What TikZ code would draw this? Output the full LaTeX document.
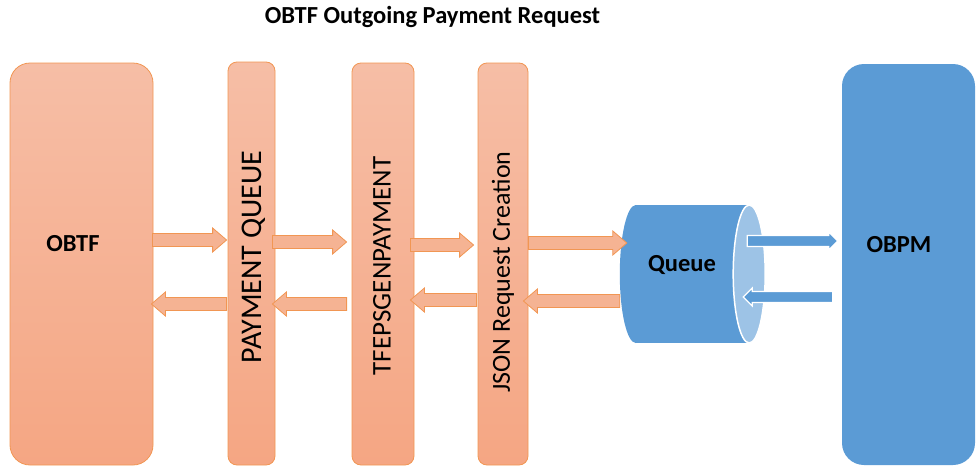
\documentclass[tikz,border=0pt]{standalone}
\usepackage{fontspec}
\setmainfont{Carlito}
\usetikzlibrary{calc}
\definecolor{orTop}{HTML}{F6BEA6}
\definecolor{orBot}{HTML}{F5A683}
\definecolor{orLine}{HTML}{F19653}
\definecolor{orArrow}{HTML}{F5B393}
\definecolor{qBlue}{HTML}{5B9BD5}
\definecolor{qLight}{HTML}{9DC3E6}
\tikzset{
  blk/.style n args={3}{to path={let \p1=(\tikztostart), \p2=(\tikztotarget), \n1={ifthenelse(\x2>\x1,1,-1)} in
    (\x1,\y1+#1) -- (\x2-\n1*#3,\y1+#1) -- (\x2-\n1*#3,\y1+#2) -- (\x2,\y1) -- (\x2-\n1*#3,\y1-#2) -- (\x2-\n1*#3,\y1-#1) -- (\x1,\y1-#1) -- cycle}},
  oarrow/.style={draw=orLine, fill=orArrow, line width=0.8pt, line join=miter, blk={6.5pt}{12pt}{14pt}},
  barrow/.style={draw=white, fill=qBlue, line width=1.2pt, line join=miter, blk={5.5pt}{9pt}{9pt}},
  obox/.style={draw=orLine, line width=0.8pt, top color=orTop, bottom color=orBot, inner sep=0pt},
  blbl/.style={font=\bfseries\fontsize{24.5}{28}\selectfont, inner sep=0pt},
  vlbl/.style={rotate=90, font=\fontsize{26}{30}\selectfont, inner sep=0pt},
}
\begin{document}
\begin{tikzpicture}[x=1pt,y=-1pt]
\useasboundingbox (0,0) rectangle (976,466);
\node[blbl] (title) at (432.5,17) {OBTF Outgoing Payment Request};
% boxes
\node[obox, rounded corners=20pt, minimum width=143pt, minimum height=402pt] (obtf) at (81.5,264) {};
\node[obox, rounded corners=9pt, minimum width=47pt, minimum height=403pt] (pq) at (251.5,263.5) {};
\node[obox, rounded corners=9pt, minimum width=62pt, minimum height=402pt] (tfe) at (383,264) {};
\node[obox, rounded corners=9pt, minimum width=50pt, minimum height=402pt] (json) at (503,264) {};
\node[fill=qBlue, rounded corners=22pt, minimum width=133pt, minimum height=401pt, inner sep=0pt] (obpm) at (908.5,264.5) {};
% queue cylinder
\node[fill=qBlue, minimum width=113pt, minimum height=138pt, inner sep=0pt] (queue) at (692.5,274) {};
\fill[qBlue] (queue.west) ellipse [x radius=16, y radius=69];
\draw[white, line width=1.5pt, fill=qLight] (queue.east) ellipse [x radius=16, y radius=69];
% labels
\node[blbl] (obtfT) at (73,244) {OBTF};
\node[blbl] (obpmT) at (899,245) {OBPM};
\node[blbl] (queueT) at (682,265) {Queue};
\node[vlbl, font=\fontsize{30}{34}\selectfont] (pqT) at (254,257) {PAYMENT QUEUE};
\node[vlbl, font=\fontsize{27}{31}\selectfont] (tfeT) at (382,266) {TFEPSGENPAYMENT};
\node[vlbl] (jsonT) at (503,272) {JSON Request Creation};
% rows
\coordinate (r1) at (0,240);
\coordinate (r2) at (0,242);
\coordinate (r3) at (0,245);
\coordinate (r4) at (0,243);
\coordinate (l1) at (0,304);
\coordinate (l2) at (0,304);
\coordinate (l3) at (0,300);
\coordinate (l4) at (0,301);
\coordinate (b1) at (0,241);
\coordinate (b2) at (0,297);
% orange arrows
\draw[oarrow] ([xshift=-1pt]obtf.east |- r1) to ([xshift=-1pt]pq.west |- r1);
\draw[oarrow] ([xshift=-1pt]pq.west |- l1) to ([xshift=-2pt]obtf.east |- l1);
\draw[oarrow] ([xshift=-3pt]pq.east |- r2) to ([xshift=-5pt]tfe.west |- r2);
\draw[oarrow] ([xshift=-5pt]tfe.west |- l2) to ([xshift=-3pt]pq.east |- l2);
\draw[oarrow] ([xshift=-4pt]tfe.east |- r3) to ([xshift=-4pt]json.west |- r3);
\draw[oarrow] ([xshift=-1pt]json.west |- l3) to ([xshift=-4pt]tfe.east |- l3);
\draw[oarrow] (json.east |- r4) to ([xshift=-9pt]queue.west |- r4);
\draw[oarrow] ([xshift=-16pt]queue.west |- l4) to ([xshift=-5pt]json.east |- l4);
% blue arrows
\draw[barrow] ([xshift=-2pt]queue.east |- b1) to ([xshift=-4pt]obpm.west |- b1);
\draw[barrow] ([xshift=-9pt]obpm.west |- b2) to ([xshift=-6pt]queue.east |- b2);
\end{tikzpicture}
\end{document}
